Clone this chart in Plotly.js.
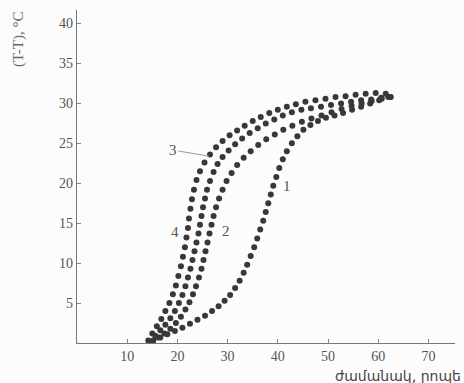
<!DOCTYPE html>
<html>
<head>
<meta charset="utf-8">
<script src="https://cdn.plot.ly/plotly-3.0.1.min.js"></script>
<style>html,body{margin:0;padding:0;background:#fcfcfc;}#chart{width:464px;height:383px;}</style>
</head>
<body>
<div id="chart"></div>
<script>
// Curve 1 (rightmost)
const curve1X = [15.2,16.6,18.0,19.5,21.0,22.5,24.0,25.5,26.9,28.2,29.4,30.5,31.5,32.4,33.2,33.9,34.6,35.3,35.9,36.5,37.1,37.6,38.1,38.6,39.1,39.7,40.3,41.0,41.8,42.8,43.9,45.1,46.5,48.0,49.6,51.3,53.0,54.8,56.6,58.4,60.2,62.0];
const curve1Y = [0.3,0.7,1.1,1.5,1.9,2.4,2.9,3.4,4.0,4.6,5.3,6.0,6.9,7.8,8.8,9.8,10.9,12.0,13.1,14.2,15.3,16.4,17.5,18.6,19.7,20.8,21.9,23.0,24.0,25.0,25.9,26.7,27.3,27.8,28.2,28.5,28.8,29.2,29.6,30.0,30.4,30.8];
// Curve 2
const curve2X = [15.0,16.2,17.4,18.6,19.7,20.7,21.6,22.4,23.1,23.7,24.3,24.8,25.2,25.6,26.0,26.4,26.8,27.2,27.7,28.3,29.0,29.8,30.8,31.9,33.2,34.6,36.1,37.7,39.4,41.1,42.9,44.8,46.7,48.7,50.7,52.7,54.7,56.7,58.7,60.7,62.5];
const curve2Y = [0.2,0.7,1.2,1.8,2.5,3.3,4.2,5.1,6.1,7.1,8.2,9.3,10.4,11.5,12.6,13.7,14.8,15.9,17.0,18.1,19.2,20.3,21.3,22.3,23.2,24.0,24.8,25.5,26.1,26.7,27.2,27.7,28.1,28.5,28.9,29.3,29.7,30.0,30.3,30.6,30.8];
// Curve 3
const curve3X = [14.6,15.6,16.6,17.6,18.6,19.5,20.3,21.0,21.6,22.1,22.6,23.0,23.4,23.8,24.2,24.5,24.8,25.1,25.5,25.9,26.5,27.2,28.0,29.0,30.2,31.5,32.9,34.4,36.0,37.6,39.3,41.0,42.8,44.7,46.6,48.6,50.6,52.6,54.6,56.6,58.6,60.6,62.4];
const curve3Y = [0.2,0.9,1.6,2.3,3.1,4.0,5.0,6.0,7.1,8.2,9.3,10.4,11.5,12.6,13.7,14.8,15.9,17.0,18.1,19.2,20.3,21.4,22.4,23.3,24.1,24.9,25.6,26.3,26.9,27.5,28.0,28.5,28.9,29.2,29.4,29.6,29.8,30.0,30.2,30.4,30.5,30.7,30.8];
// Curve 4 (leftmost)
const curve4X = [14.2,15.0,15.9,16.8,17.6,18.4,19.1,19.7,20.2,20.7,21.1,21.5,21.8,22.1,22.3,22.6,22.9,23.3,23.8,24.5,25.4,26.5,27.7,29.0,30.4,31.9,33.4,35.0,36.6,38.3,40.0,41.8,43.6,45.5,47.5,49.5,51.5,53.5,55.5,57.5,59.5,61.5];
const curve4Y = [0.3,1.2,2.1,3.0,4.0,5.0,6.1,7.2,8.4,9.6,10.8,12.0,13.2,14.4,15.6,16.8,18.0,19.2,20.4,21.5,22.6,23.6,24.5,25.3,26.0,26.6,27.2,27.8,28.3,28.8,29.2,29.6,29.9,30.2,30.4,30.6,30.8,30.9,31.1,31.2,31.3,31.2];

const xTicks = [10,20,30,40,50,60,70];
const yTicks = [5,10,15,20,25,30,35,40];
const curveLabels = ["1","2","3","4"];

const mk = {color:'#383838', size:6};
const traces = [
  {x:curve1X, y:curve1Y},
  {x:curve2X, y:curve2Y},
  {x:curve3X, y:curve3Y},
  {x:curve4X, y:curve4Y}
].map(t => Object.assign(t, {type:'scatter', mode:'markers', marker:mk, hoverinfo:'none'}));

const serif = 'Liberation Serif, DejaVu Serif, serif';
const lblFont = {family:serif, size:15, color:'#555555'};
const layout = {
  width:464, height:383,
  margin:{l:77, r:9, t:10, b:40},
  paper_bgcolor:'#fcfcfc', plot_bgcolor:'#fcfcfc',
  showlegend:false,
  xaxis:{range:[0,75.3], tickvals:xTicks, ticktext:xTicks.map(String),
    ticks:'inside', ticklen:4, tickcolor:'#888', showline:true, linecolor:'#777', linewidth:1.3,
    showgrid:false, zeroline:false, tickfont:{family:serif, size:14, color:'#555'}},
  yaxis:{range:[0,41.7], tickvals:yTicks, ticktext:yTicks.map(String),
    ticks:'inside', ticklen:4, tickcolor:'#888', showline:true, linecolor:'#777', linewidth:1.3,
    showgrid:false, zeroline:false, tickfont:{family:serif, size:14, color:'#555'}},
  annotations:[
    {x:41.8, y:19.7, text:curveLabels[0], showarrow:false, font:lblFont},
    {x:29.7, y:14.0, text:curveLabels[1], showarrow:false, font:lblFont},
    {x:26.3, y:23.4, text:curveLabels[2], showarrow:true, arrowhead:0, arrowwidth:1, arrowcolor:'#999',
      ax:-36, ay:-6, font:lblFont},
    {x:19.5, y:13.9, text:curveLabels[3], showarrow:false, font:lblFont},
    {xref:'paper', yref:'paper', x:-0.155, y:1.0, xanchor:'center', yanchor:'top', textangle:-90,
      text:'(T-T), °C', showarrow:false, font:{family:serif, size:15, color:'#666'}},
    {xref:'paper', yref:'paper', x:1.02, y:-0.07, xanchor:'right', yanchor:'top',
      text:'ժամանակ, րոպե', showarrow:false, font:{family:'DejaVu Sans, sans-serif', size:14, color:'#444'}}
  ]
};
Plotly.newPlot('chart', traces, layout, {staticPlot:true, displayModeBar:false});
</script>
</body>
</html>
